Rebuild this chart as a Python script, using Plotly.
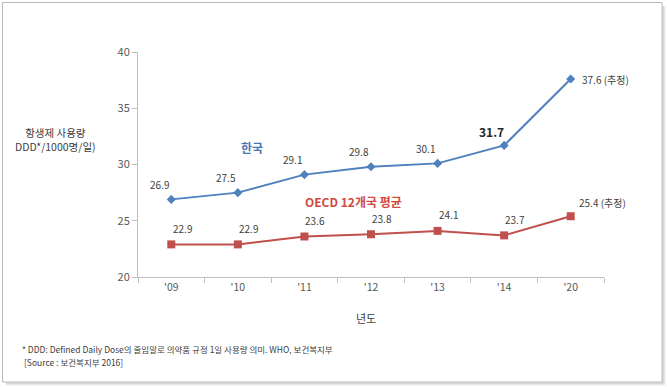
import plotly.graph_objects as go

years = ["'09", "'10", "'11", "'12", "'13", "'14", "'20"]
korea = [26.9, 27.5, 29.1, 29.8, 30.1, 31.7, 37.6]
oecd = [22.9, 22.9, 23.6, 23.8, 24.1, 23.7, 25.4]
korea_labels = ["26.9", "27.5", "29.1", "29.8", "30.1", "31.7", "37.6 (추정)"]
oecd_labels = ["22.9", "22.9", "23.6", "23.8", "24.1", "23.7", "25.4 (추정)"]
y_ticks = [20, 25, 30, 35, 40]

W, H = 667, 387
L, R, T, B = 138, 63, 52, 110
PW, PH = W - L - R, H - T - B

def px(x):
    return (x - L) / PW

def py(y):
    return 1 - (y - T) / PH

FONT = "Noto Sans CJK KR"
BLUE = "#4F81BD"
RED = "#C0504D"

fig = go.Figure()
fig.add_trace(go.Scatter(x=years, y=korea, mode="lines+markers",
                         line=dict(color=BLUE, width=2),
                         marker=dict(symbol="diamond", size=7, color=BLUE),
                         showlegend=False, hoverinfo="skip"))
fig.add_trace(go.Scatter(x=years, y=oecd, mode="lines+markers",
                         line=dict(color=RED, width=2),
                         marker=dict(symbol="square", size=8, color=RED),
                         showlegend=False, hoverinfo="skip"))

ann = []
for i, (c, v, t) in enumerate(zip(years, korea, korea_labels)):
    if i == len(years) - 1:
        ann.append(dict(x=c, y=v, text=t, xanchor="left", yanchor="middle",
                        xshift=9, yshift=0, showarrow=False,
                        font=dict(family=FONT, size=10, color="#404040")))
    elif i == 5:
        ann.append(dict(x=c, y=v, text="<b>" + t + "</b>", xanchor="center",
                        yanchor="middle", xshift=-13, yshift=14, showarrow=False,
                        font=dict(family=FONT, size=12, color="#262626")))
    else:
        ann.append(dict(x=c, y=v, text=t, xanchor="center", yanchor="middle",
                        xshift=-12, yshift=15, showarrow=False,
                        font=dict(family=FONT, size=10, color="#404040")))
for i, (c, v, t) in enumerate(zip(years, oecd, oecd_labels)):
    if i == len(years) - 1:
        ann.append(dict(x=c, y=v, text=t, xanchor="left", yanchor="middle",
                        xshift=6, yshift=14, showarrow=False,
                        font=dict(family=FONT, size=10, color="#404040")))
    else:
        ann.append(dict(x=c, y=v, text=t, xanchor="center", yanchor="middle",
                        xshift=11, yshift=16, showarrow=False,
                        font=dict(family=FONT, size=10, color="#404040")))

ann.append(dict(xref="paper", yref="paper", x=px(252), y=py(147), text="<b>한국</b>",
                showarrow=False, xanchor="center", yanchor="middle",
                font=dict(family=FONT, size=12, color="#4A76B5")))
ann.append(dict(xref="paper", yref="paper", x=px(353), y=py(201),
                text="<b>OECD 12개국 평균</b>", showarrow=False, xanchor="center",
                yanchor="middle", font=dict(family=FONT, size=12, color="#D04A40")))
ann.append(dict(xref="paper", yref="paper", x=px(55), y=py(139),
                text="항생제 사용량<br>DDD*/1000명/일)", showarrow=False,
                xanchor="center", yanchor="middle", align="center",
                font=dict(family=FONT, size=10.5, color="#404040")))
ann.append(dict(xref="paper", yref="paper", x=px(366), y=py(318), text="년도",
                showarrow=False, xanchor="center", yanchor="middle",
                font=dict(family=FONT, size=11, color="#404040")))
ann.append(dict(xref="paper", yref="paper", x=px(20), y=py(349),
                text="* DDD: Defined Daily Dose의 줄임말로 의약품 규정 1일 사용량 의미. WHO, 보건복지부",
                showarrow=False, xanchor="left", yanchor="middle",
                font=dict(family=FONT, size=8.5, color="#404040")))
ann.append(dict(xref="paper", yref="paper", x=px(22), y=py(362),
                text="[Source : 보건복지부 2016]",
                showarrow=False, xanchor="left", yanchor="middle",
                font=dict(family=FONT, size=8.5, color="#404040")))

shapes = []
# frame with soft shadow on right/bottom
for off, col in [(3, "#EDEDED"), (2, "#D9D9D9"), (1, "#C4C4C4")]:
    shapes.append(dict(type="line", xref="paper", yref="paper",
                       x0=px(662 + off), x1=px(662 + off), y0=py(382 + off), y1=py(6),
                       line=dict(color=col, width=1), layer="above"))
    shapes.append(dict(type="line", xref="paper", yref="paper",
                       x0=px(6), x1=px(662 + off), y0=py(382 + off), y1=py(382 + off),
                       line=dict(color=col, width=1), layer="above"))
shapes.append(dict(type="rect", xref="paper", yref="paper",
                   x0=px(2.5), x1=px(662), y0=py(382), y1=py(2.5),
                   line=dict(color="#B8B8B8", width=1), layer="above"))

fig.update_layout(
    width=W, height=H,
    margin=dict(l=L, r=R, t=T, b=B),
    paper_bgcolor="white", plot_bgcolor="rgba(0,0,0,0)",
    annotations=ann, shapes=shapes,
    xaxis=dict(type="category", range=[-0.5, 6.5], showgrid=False,
               showline=True, linecolor="#BFBFBF", linewidth=1,
               ticks="outside", tickson="boundaries", ticklen=5, tickcolor="#BFBFBF",
               tickfont=dict(family=FONT, size=10.5, color="#595959"), zeroline=False),
    yaxis=dict(range=[20, 40], tickvals=y_ticks, showgrid=False, showline=True,
               linecolor="#BFBFBF", linewidth=1, ticks="outside", ticklen=5,
               tickcolor="#BFBFBF", zeroline=False,
               tickfont=dict(family=FONT, size=11, color="#595959")),
)

fig.write_html("out.html", config={"displayModeBar": False},
               post_script="document.body.style.margin='0';document.body.style.padding='0';")
